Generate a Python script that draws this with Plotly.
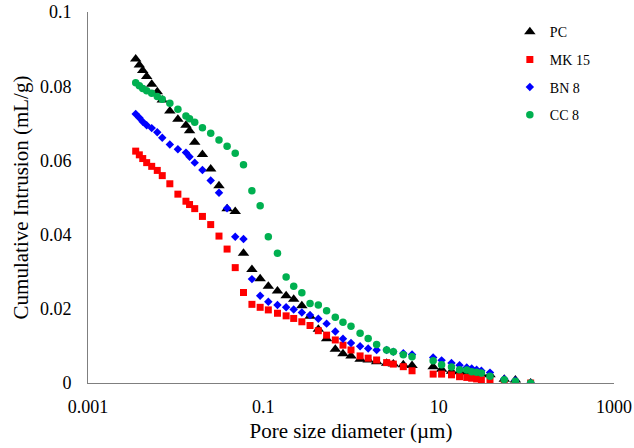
import plotly.graph_objects as go

# Pore size diameter (µm) - shared grid
pore_size = [0.00350, 0.00385, 0.00421, 0.00467, 0.00533, 0.00617, 0.00703, 0.00858,
             0.0106, 0.0131, 0.0144, 0.0165, 0.0202, 0.0251, 0.0312, 0.0386, 0.0478,
             0.0594, 0.0741, 0.0920, 0.114, 0.145, 0.182, 0.222, 0.275, 0.341, 0.424,
             0.527, 0.662, 0.810, 1.0, 1.27, 1.57, 1.96, 2.55, 3.04, 3.95, 4.97, 8.65,
             10.8, 14.0, 17.3, 20.9, 23.8, 27.1, 30.7, 38.5, 56.0, 75.0, 112.0]

pc = [0.0873, 0.0857, 0.0842, 0.0826, 0.0805, 0.0785, 0.0763, 0.0733, 0.0711, 0.0695,
      0.0680, 0.0649, 0.0616, 0.0577, 0.0532, 0.0470, 0.0462, 0.0350, 0.0306, 0.0281,
      0.0261, 0.0248, 0.0235, 0.0226, 0.0208, 0.0180, 0.0145, 0.0119, 0.0091, 0.0079,
      0.0073, 0.0064, 0.0062, 0.0057, 0.0053, 0.0051, 0.0049, 0.0047, 0.0044, 0.0037,
      0.0032, 0.0030, 0.0029, 0.0029, 0.0026, 0.0024, 0.0022, 0.0010, 0.0008, 0.0]

mk15 = [0.0625, 0.0615, 0.0605, 0.0594, 0.0584, 0.0573, 0.0559, 0.0537, 0.0509, 0.0490,
        0.0481, 0.0470, 0.0449, 0.0427, 0.0396, 0.0361, 0.0311, 0.0244, 0.0212, 0.0204,
        0.0197, 0.0188, 0.0181, 0.0174, 0.0165, 0.0155, 0.0141, 0.0129, 0.0116, 0.0102,
        0.0089, 0.0073, 0.0067, 0.0062, 0.0055, 0.0051, 0.0044, 0.0033, 0.0024, 0.0024,
        0.0022, 0.0017, 0.0015, 0.0013, 0.0011, 0.0008, 0.0006, 0.0001, 0.0, 0.0]

bn8 = [0.0725, 0.0715, 0.0704, 0.0695, 0.0687, 0.0676, 0.0661, 0.0643, 0.0630, 0.0621,
       0.0610, 0.0594, 0.0574, 0.0546, 0.0513, 0.0471, 0.0394, 0.0388, 0.0280, 0.0235,
       0.0219, 0.0210, 0.0204, 0.0198, 0.0190, 0.0183, 0.0173, 0.0160, 0.0139, 0.0119,
       0.0108, 0.0099, 0.0093, 0.0089, 0.0089, 0.0084, 0.0080, 0.0077, 0.0069, 0.0061,
       0.0054, 0.0048, 0.0042, 0.0039, 0.0036, 0.0033, 0.0028, 0.0011, 0.0007, 0.0]

cc8 = [0.0809, 0.0801, 0.0794, 0.0788, 0.0781, 0.0772, 0.0765, 0.0754, 0.0738, 0.0720,
       0.0712, 0.0703, 0.0688, 0.0673, 0.0655, 0.0638, 0.0619, 0.0588, 0.0518, 0.0478,
       0.0394, 0.0350, 0.0286, 0.0261, 0.0243, 0.0214, 0.0210, 0.0195, 0.0177, 0.0164,
       0.0153, 0.0134, 0.0120, 0.0104, 0.0089, 0.0084, 0.0076, 0.0071, 0.0060, 0.0049,
       0.0043, 0.0036, 0.0035, 0.0030, 0.0029, 0.0027, 0.0018, 0.0009, 0.0005, 0.0]

series_names = ["PC", "MK 15", "BN 8", "CC 8"]
x_tick_vals = [0.001, 0.1, 10, 1000]
x_tick_text = ["0.001", "0.1", "10", "1000"]
y_tick_vals = [0, 0.02, 0.04, 0.06, 0.08, 0.1]
y_tick_text = ["0", "0.02", "0.04", "0.06", "0.08", "0.1"]

styles = [
    dict(symbol="triangle-up", color="#000000", size=10),
    dict(symbol="square", color="#ff0000", size=7),
    dict(symbol="diamond", color="#0000ff", size=6.5),
    dict(symbol="circle", color="#00b050", size=7.5),
]

fig = go.Figure()
for name, ys, st in zip(series_names, [pc, mk15, bn8, cc8], styles):
    fig.add_trace(go.Scatter(
        x=pore_size, y=ys, mode="markers", name=name, legendgroup=name,
        marker=dict(symbol=st["symbol"], color=st["color"], size=st["size"], line=dict(width=0)),
    ))

font_family = "Liberation Serif, Times New Roman, serif"
fig.update_layout(
    width=634, height=448,
    margin=dict(l=88, r=20, t=12, b=65, autoexpand=False),
    paper_bgcolor="white", plot_bgcolor="white",
    font=dict(family=font_family, color="#000000", size=18),
    showlegend=True,
    legend=dict(x=0.802, y=0.989, xanchor="left", yanchor="top",
                font=dict(family=font_family, size=14, color="#000000"),
                bgcolor="rgba(0,0,0,0)", tracegroupgap=6.5, itemsizing="trace"),
    xaxis=dict(type="log", range=[-3, 3], tickvals=x_tick_vals, ticktext=x_tick_text,
               showgrid=False, zeroline=False, showline=True, linecolor="#7f7f7f", linewidth=1,
               ticks="", tickfont=dict(size=18), automargin=False, ticklabelstandoff=7,
               ticklabeloverflow="allow",
               title=dict(text="Pore size diameter (µm)", font=dict(size=21), standoff=7)),
    yaxis=dict(range=[0, 0.1], tickvals=y_tick_vals, ticktext=y_tick_text,
               showgrid=False, zeroline=False, showline=True, linecolor="#7f7f7f", linewidth=1,
               ticks="", tickfont=dict(size=18), automargin=False, ticklabelstandoff=12,
               ticklabeloverflow="allow",
               title=dict(text="Cumulative Intrusion (mL/g)", font=dict(size=21), standoff=5)),
)

# Remove the browser's default 8px body margin so the figure fills the window exactly.
fig.write_html("out.html",
               config={"displayModeBar": False},
               post_script="document.body.style.margin='0';document.body.style.overflow='hidden';")
